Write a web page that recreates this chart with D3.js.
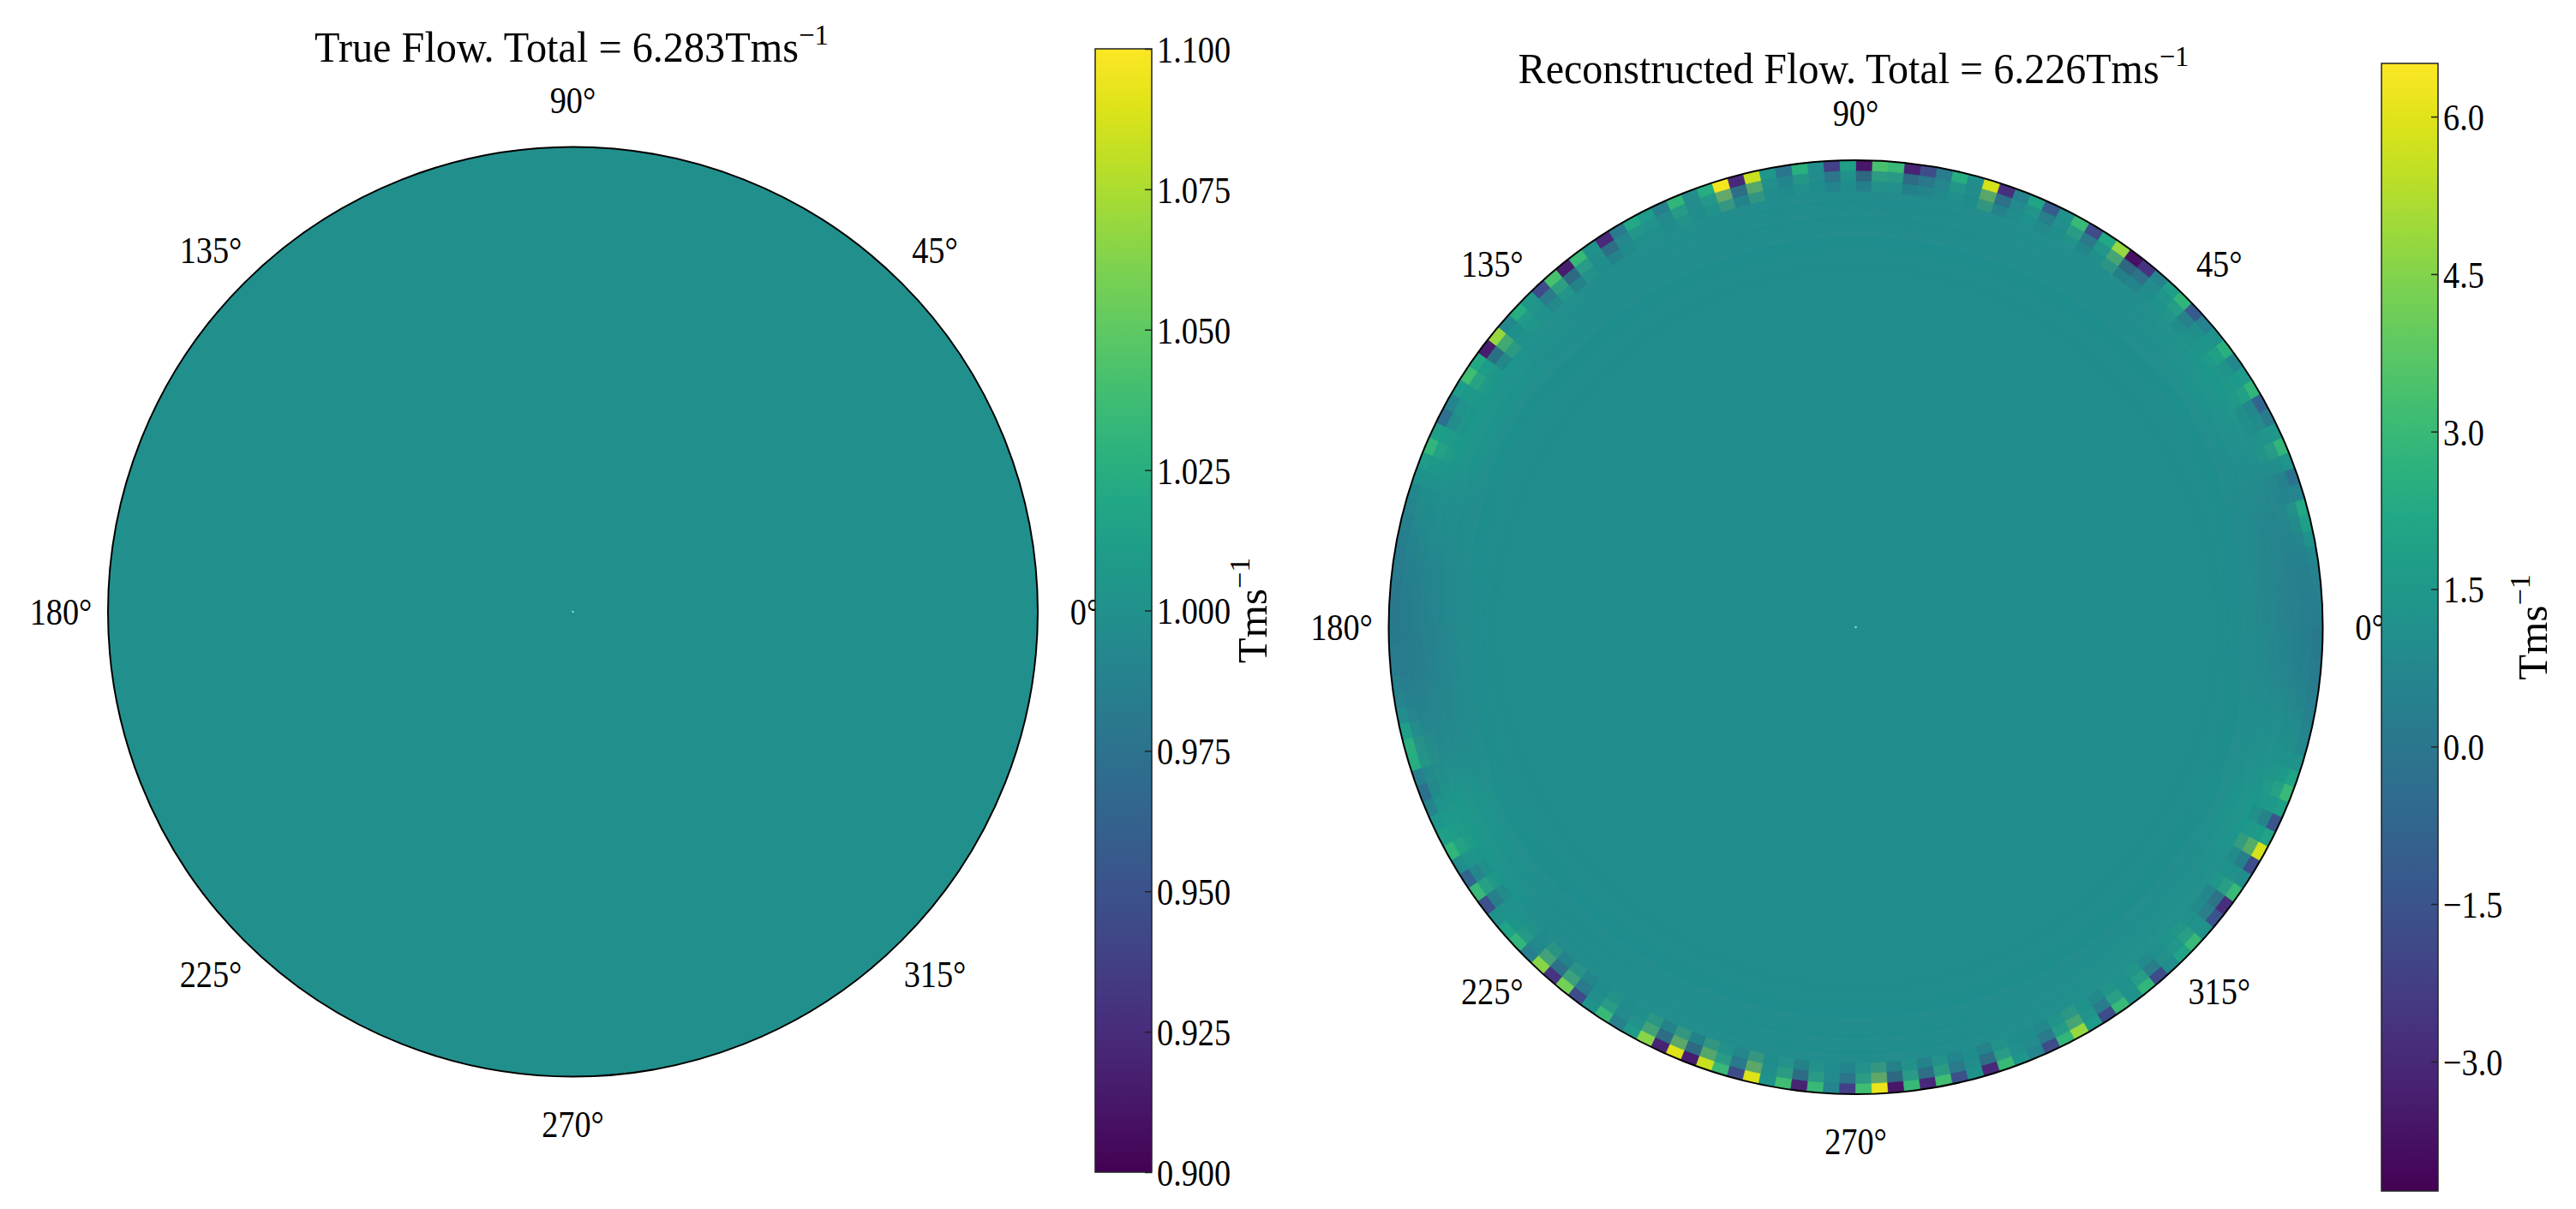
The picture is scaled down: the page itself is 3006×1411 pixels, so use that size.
<!DOCTYPE html>
<html>
  <head>
   <meta charset="utf-8" />
   <title>Flow</title>
   <style>
     body { margin: 0; background: white; }
     text { font-family: "Liberation Serif", "DejaVu Serif", serif; fill: #000; }
   </style>
  </head>
  <body>
<svg id="chart" width=3006 height=1411></svg>
  <script src="https://d3js.org/d3.v7.min.js"></script>
  <script>

    // angle labels round both polar plots (degrees)
    var angleTicks = [0, 45, 90, 135, 180, 225, 270, 315];

    // left plot: the true flow is a flat field
    var trueTitle = "True Flow. Total = 6.283Tms";
    var trueValue = 1.0;
    var trueRange = [0.9, 1.1];
    var trueTicks = [0.9, 0.925, 0.95, 0.975, 1.0, 1.025, 1.05, 1.075, 1.1];

    // right plot: reconstructed flow
    var reconTitle = "Reconstructed Flow. Total = 6.226Tms";
    var reconBulk = 1.0;
    var reconRange = [-4.234, 6.507];
    var reconTicks = [-3.0, -1.5, 0.0, 1.5, 3.0, 4.5, 6.0];

    // outermost ring, 2 degree bins starting at 0 deg going anticlockwise
    var rimOuter = [
      0.2, 0.3, 0.4, 0.5, 0.8, 1.2, 1.8, 2.2, 0.6, -0.2,
      1.4, 2.8, 1.5, 0.2, -0.8, 2.8, 1.6, 0.8, 2.6, 1.2,
      0.5, -1.2, 2.8, 1.8, 0.6, -2.6, -3.8, 4.8, 2.2, -1.8,
      3.0, 1.2, -1.2, 2.0, 0.5, -2.8, 5.8, 1.0, 2.4, 0.2,
      -1.8, -3.2, 3.0, 3.4, -3.6, 1.8, -2.2, 1.0, 2.6, 0.0,
      1.4, 5.6, -3.0, 6.3, 2.4, 1.0, 2.8, 0.4, 1.6, 2.2,
      0.2, -3.0, 1.2, 3.0, -3.4, 3.4, -1.8, 1.5, 2.4, 0.8,
      4.8, -3.4, 2.2, 3.2, 1.6, 0.6, -0.4, 1.8, 2.8, 1.6,
      1.2, 0.8, 0.6, 0.4, 0.3, 0.2, 0.2, 0.1, 0.1, 0.1,
      0.1, 0.2, 0.2, 0.4, 0.6, 1.0, 1.8, 2.6, 2.4, 0.4,
      -0.2, 0.6, 1.4, 1.8, 2.8, 1.0, -0.8, 3.0, -1.6, 1.2,
      2.0, 2.8, 0.4, 4.6, -2.6, 4.2, -1.8, 1.2, 3.0, 0.4,
      1.6, 4.6, -3.2, 6.0, -3.4, 5.6, 3.0, -1.8, 6.0, 1.2,
      3.2, -3.2, 3.0, 0.6, -2.2, 3.2, 6.2, -3.6, 3.0, -3.0,
      3.2, -1.6, 1.2, -3.0, 3.0, 1.4, 0.6, -1.8, 2.8, 4.8,
      1.6, -1.8, 3.0, 1.2, 2.8, -1.8, 1.0, 2.0, 3.0, 1.2,
      -1.4, -2.8, 3.0, 1.0, -1.8, 5.8, 2.0, -1.4, 1.8, 3.0,
      2.0, 1.2, 0.8, 0.6, 0.4, 0.3, 0.2, 0.2, 0.1, 0.1
    ];

    // broad shading near the edge, 10 degree sectors
    var edgeShade = [
      0.2, 0.5, 1.3, 1.6, 1.2, 1.0, 1.1, 1.0, 0.9,
      1.0, 1.0, 1.1, 1.0, 1.2, 1.5, 1.7, 1.0, 0.3,
      0.1, 0.6, 1.8, 1.4, 0.9, 1.0, 1.1, 1.0, 1.0,
      1.0, 1.0, 1.1, 1.2, 1.3, 1.2, 1.6, 1.2, 0.4
    ];

    var svg = d3.select("#chart");
    svg.append("rect").attr("width", 3006).attr("height", 1411).attr("fill", "white");
    var defs = svg.append("defs");

    var left = {cx: 668.5, cy: 714, r: 542.5};
    var right = {cx: 2165.5, cy: 732, r: 545};

    var trueColor = d3.scaleSequential(d3.interpolateViridis).domain(trueRange);
    var reconColor = d3.scaleSequential(d3.interpolateViridis).domain(reconRange);
    var deg = d3.scaleLinear().domain([0, 360]).range([0, 2 * Math.PI]);

    // squeeze a text horizontally so it reads narrow like the latex font
    function squeeze(sel, x, y, sx) {
      sel.attr("transform", "translate(" + x + "," + y + ") scale(" + sx + ",1)");
    }

    function fitTitle(str, cx, baseline, target) {
      var t = svg.append("text").attr("text-anchor", "middle").attr("font-size", 50);
      t.append("tspan").text(str);
      t.append("tspan").attr("dy", -20).attr("font-size", 34).text("\u22121");
      var w = t.node().getComputedTextLength();
      squeeze(t, cx, baseline, target / w);
    }

    function angleLabels(p) {
      svg.append("g").selectAll("text")
        .data(angleTicks)
        .enter().append("text")
        .attr("text-anchor", "middle")
        .attr("dy", "0.35em")
        .attr("font-size", 44)
        .text(function(a){ return a + "\u00b0"; })
        .each(function(a){
          var rr = p.r + 55;
          var x = p.cx + rr * Math.cos(deg(a));
          var y = p.cy - rr * Math.sin(deg(a));
          squeeze(d3.select(this), x, y, 0.87);
        });
    }

    function colorbar(id, x, y0, y1, range, ticks, fmt, labelX) {
      var grad = defs.append("linearGradient").attr("id", id)
        .attr("x1", 0).attr("y1", 1).attr("x2", 0).attr("y2", 0);
      d3.range(0, 1.0001, 0.05).forEach(function(t){
        grad.append("stop").attr("offset", t).attr("stop-color", d3.interpolateViridis(t));
      });
      var w = 66;
      svg.append("rect").attr("x", x).attr("y", y0).attr("width", w).attr("height", y1 - y0)
        .attr("fill", "url(#" + id + ")");
      var yScale = d3.scaleLinear().domain(range).range([y1, y0]);
      var axis = d3.axisRight(yScale).tickValues(ticks).tickFormat(fmt)
        .tickSizeInner(-8).tickSizeOuter(0).tickPadding(0);
      var g = svg.append("g").attr("transform", "translate(" + (x + w) + ",0)").call(axis);
      g.select(".domain").remove();
      g.selectAll(".tick line").attr("stroke", "#222").attr("stroke-width", 1.5);
      g.selectAll(".tick text")
        .attr("x", null).attr("dy", "0.35em")
        .attr("font-size", 44).attr("font-family", "Liberation Serif").attr("fill", "#000")
        .attr("text-anchor", "start")
        .attr("transform", "translate(6,0) scale(0.87,1)");
      svg.append("rect").attr("x", x).attr("y", y0).attr("width", w).attr("height", y1 - y0)
        .attr("fill", "none").attr("stroke", "#222").attr("stroke-width", 1.5);

      var lab = svg.append("text").attr("text-anchor", "middle").attr("font-size", 49);
      lab.append("tspan").text("Tms");
      lab.append("tspan").attr("dy", -20).attr("font-size", 34).text("\u22121");
      lab.attr("transform", "translate(" + labelX + "," + ((y0 + y1) / 2) + ") rotate(-90)");
    }

    // ---------- left: true flow ----------
    svg.append("circle")
      .attr("cx", left.cx).attr("cy", left.cy).attr("r", left.r)
      .attr("fill", trueColor(trueValue))
      .attr("stroke", "#000").attr("stroke-width", 2);
    svg.append("circle").attr("cx", left.cx).attr("cy", left.cy).attr("r", 1.3).attr("fill", "#8fd0cc");

    fitTitle(trueTitle, 667, 72, 600);
    angleLabels(left);
    colorbar("cbTrue", 1278, 57, 1368, trueRange, trueTicks, d3.format(".3f"), 1478);

    // ---------- right: reconstructed flow ----------
    defs.append("clipPath").attr("id", "reconClip")
      .append("circle").attr("cx", right.cx).attr("cy", right.cy).attr("r", right.r);
    var blur = defs.append("filter").attr("id", "soft")
      .attr("x", -0.2).attr("y", -0.2).attr("width", 1.4).attr("height", 1.4);
    blur.append("feGaussianBlur").attr("stdDeviation", 30);

    var recon = svg.append("g").attr("clip-path", "url(#reconClip)");
    recon.append("circle")
      .attr("cx", right.cx).attr("cy", right.cy).attr("r", right.r)
      .attr("fill", reconColor(reconBulk));

    var arc = d3.arc();
    function cellPath(a0, a1, r0, r1) {
      return arc({innerRadius: r0, outerRadius: r1,
                  startAngle: Math.PI / 2 - deg(a1), endAngle: Math.PI / 2 - deg(a0)});
    }

    var shadeStep = 360 / edgeShade.length;
    recon.append("g")
      .attr("transform", "translate(" + right.cx + "," + right.cy + ")")
      .attr("filter", "url(#soft)")
      .selectAll("path")
      .data(edgeShade)
      .enter().append("path")
      .attr("d", function(v, i){ return cellPath(i * shadeStep, (i + 1) * shadeStep, right.r * 0.9, right.r + 70); })
      .attr("fill", function(v){ return reconColor(v); })
      .attr("stroke", function(v){ return reconColor(v); })
      .attr("stroke-width", 1);

    var rimStep = 360 / rimOuter.length;
    var ringW = 12;
    // inner rings carry a faded echo of the rim noise
    var rings = [
      {r0: right.r - 3 * ringW, r1: right.r - 2 * ringW, op: 0.1},
      {r0: right.r - 2 * ringW, r1: right.r - ringW, op: 0.3},
      {r0: right.r - ringW, r1: right.r + 2, op: 1}
    ];
    rings.forEach(function(ring){
      recon.append("g")
        .attr("transform", "translate(" + right.cx + "," + right.cy + ")")
        .attr("opacity", ring.op)
        .selectAll("path")
        .data(rimOuter)
        .enter().append("path")
        .attr("d", function(v, i){ return cellPath(i * rimStep, (i + 1) * rimStep, ring.r0, ring.r1); })
        .attr("fill", function(v){ return reconColor(v); })
        .attr("stroke", function(v){ return reconColor(v); })
        .attr("stroke-width", 0.6);
    });

    svg.append("circle")
      .attr("cx", right.cx).attr("cy", right.cy).attr("r", right.r)
      .attr("fill", "none").attr("stroke", "#000").attr("stroke-width", 2);
    svg.append("circle").attr("cx", right.cx).attr("cy", right.cy).attr("r", 1.3).attr("fill", "#8fd0cc");

    fitTitle(reconTitle, 2163, 97, 783);
    angleLabels(right);
    colorbar("cbRecon", 2779, 74, 1390, reconRange, reconTicks, d3.format(".1f"), 2972);

  </script>
  </body>
</html>
